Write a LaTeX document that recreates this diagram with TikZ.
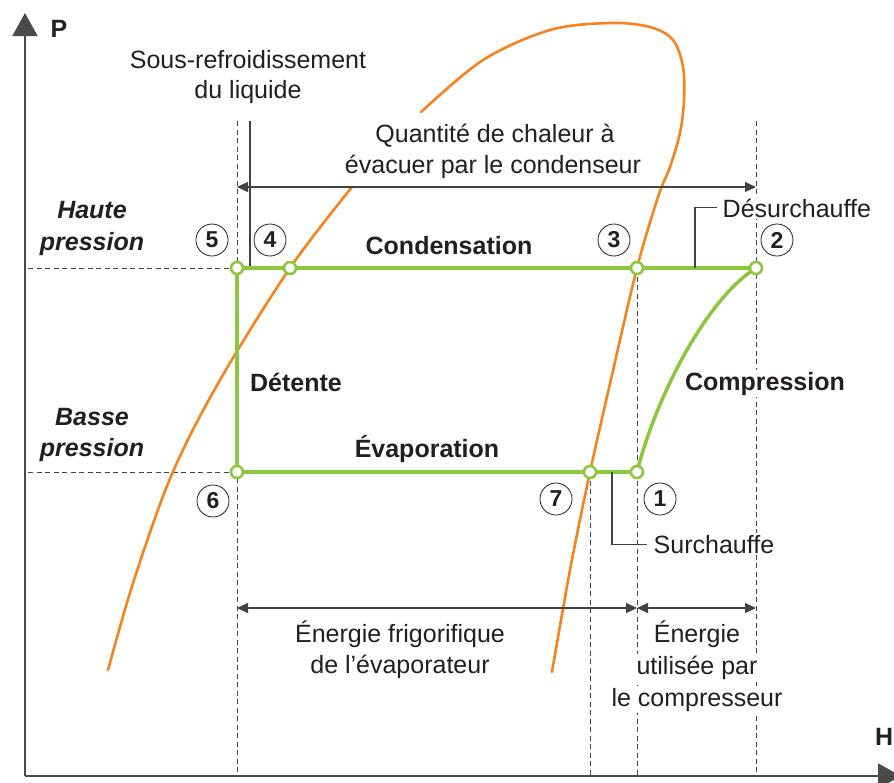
\documentclass[tikz,border=0pt]{standalone}
\usepackage{fontspec}
\setmainfont{Liberation Sans}
\usetikzlibrary{arrows.meta}
\definecolor{cgreen}{HTML}{8DC63F}
\definecolor{corange}{HTML}{F7821F}
\definecolor{cink}{HTML}{231F20}
\definecolor{caxis}{HTML}{4A4A4A}
\definecolor{cdash}{HTML}{444444}
\tikzset{
  txt/.style={font=\fontsize{25}{31}\selectfont, text=cink, inner sep=0pt, anchor=base},
  btxt/.style={txt, font=\fontsize{25}{31}\selectfont\bfseries},
  bitxt/.style={txt, font=\fontsize{25}{31}\selectfont\bfseries\itshape},
  wtxt/.style={txt, fill=white, inner sep=1.5pt},
  numlab/.style={circle, draw=cink, line width=0.8pt, fill=white, minimum size=32pt, inner sep=0pt, font=\fontsize{23}{23}\selectfont\bfseries, text=cink},
  statept/.style={circle, draw=cgreen, line width=2.6pt, fill=white, minimum size=12pt, inner sep=0pt},
  cycle line/.style={draw=cgreen, line width=3.5pt},
  satcurve/.style={draw=corange, line width=2.6pt, line cap=round},
  axisline/.style={draw=caxis, line width=1.6pt, -{Triangle[length=23pt,width=25pt]}},
  guide/.style={draw=cdash, line width=1pt, dash pattern=on 5pt off 3.5pt},
  dimline/.style={draw=cink!85, line width=1.1pt, {Triangle[length=11pt,width=10pt]}-{Triangle[length=11pt,width=10pt]}},
  leader/.style={draw=cink!85, line width=1.1pt}
}
\begin{document}
\begin{tikzpicture}[x=1pt,y=-1pt]
\useasboundingbox (0,0) rectangle (894,782);
\fill[white] (0,0) rectangle (894,782);

% key coordinates
\coordinate (o) at (25,776);
\coordinate (ptop) at (25,13);
\coordinate (hend) at (901,776);
\coordinate (c5) at (237,268);
\coordinate (c4) at (290,268);
\coordinate (c3) at (637,268);
\coordinate (c2) at (756,268);
\coordinate (c6) at (237,472);
\coordinate (c7) at (590,472);
\coordinate (c1) at (637,472);

% guide dashed lines
\coordinate (g237t) at (237,121);
\coordinate (g237b) at (237,776);
\coordinate (g756t) at (756,121);
\coordinate (g756b) at (756,776);
\coordinate (g637b) at (637,776);
\coordinate (g590b) at (590,776);
\coordinate (hp) at (28,268);
\coordinate (bp) at (28,472);
\draw[guide] (g237t) -- (g237b);
\draw[guide] (g756t) -- (g756b);
\draw[guide] (c3) -- (g637b);
\draw[guide] (c7) -- (g590b);
\draw[guide] (hp) -- (c5);
\draw[guide] (bp) -- (c6);

% saturation curve
\draw[satcurve] plot[smooth, tension=0.55] coordinates {(108,670) (134,580) (172,474) (220,380) (290,268) (352,187)};
\draw[satcurve] plot[smooth, tension=0.55] coordinates {(421,112) (483,60) (550,30) (610,23) (650,27) (673,40) (683,67) (684,100) (680,133) (670,167) (658,197) (637,268) (612,375) (590,472) (570,570) (552,672)};

% axes
\draw[axisline] (o) -- (ptop);
\draw[axisline] (o) -- (hend);
\node[btxt] (plab) at (59,37) {P};
\node[btxt, anchor=base west] (hlab) at (875,745) {H};

% sous-refroidissement marker
\coordinate (sr1) at (250,121);
\coordinate (sr2) at (250,268);
\draw[leader] (sr1) -- (sr2);

% dimension arrows
\coordinate (qa) at (237,187);
\coordinate (qb) at (756,187);
\draw[dimline] (qa) -- (qb);
\coordinate (ea) at (237,608);
\coordinate (eb) at (637,608);
\coordinate (ec) at (756,608);
\draw[dimline] (ea) -- (eb);
\draw[dimline] (eb) -- (ec);

% cycle
\draw[cycle line] (c5) -- (c2);
\draw[cycle line] (c5) -- (c6);
\draw[cycle line] (c6) -- (c1);
\draw[cycle line] (c1) .. controls (655,400) and (705,300) .. (c2);

% leaders
\node[wtxt, anchor=base west] (desur) at (721,217) {Désurchauffe};
\coordinate (dl0) at (695,268);
\draw[leader] (dl0) |- ([xshift=-4pt]desur.west);
\node[wtxt, anchor=base west] (surch) at (652,553) {Surchauffe};
\coordinate (sl0) at (612,472);
\draw[leader] (sl0) |- ([xshift=-5pt]surch.west);

% state points
\foreach \c in {5,4,3,2,6,7,1} { \node[statept] (p\c) at (c\c) {}; }

% numbered labels
\node[numlab] (n5) at (212,240) {5};
\node[numlab] (n4) at (270,240) {4};
\node[numlab] (n3) at (614,240) {3};
\node[numlab] (n2) at (777,240) {2};
\node[numlab] (n6) at (213,501) {6};
\node[numlab] (n7) at (556,499) {7};
\node[numlab] (n1) at (660,499) {1};

% texts
\node[txt] (sr_a) at (248,68) {Sous-refroidissement};
\node[txt] (sr_b) at (248,98) {du liquide};
\node[txt] (q_a) at (495,142) {Quantité de chaleur à};
\node[txt] (q_b) at (493,173) {évacuer par le condenseur};
\node[bitxt] (hp_a) at (92,218) {Haute};
\node[bitxt] (hp_b) at (92,250) {pression};
\node[bitxt] (bp_a) at (92,425) {Basse};
\node[bitxt] (bp_b) at (92,456) {pression};
\node[btxt] (cond) at (449,254) {Condensation};
\node[btxt] (det) at (296,391) {Détente};
\node[btxt, fill=white, inner sep=1.5pt] (comp) at (765,390) {Compression};
\node[btxt] (evap) at (427,457) {Évaporation};
\node[txt] (ef_a) at (400,642) {Énergie frigorifique};
\node[txt] (ef_b) at (400,673) {de l’évaporateur};
\node[wtxt] (ec_a) at (697,642) {Énergie};
\node[wtxt] (ec_b) at (697,674) {utilisée par};
\node[wtxt] (ec_c) at (697,706) {le compresseur};
\end{tikzpicture}
\end{document}
